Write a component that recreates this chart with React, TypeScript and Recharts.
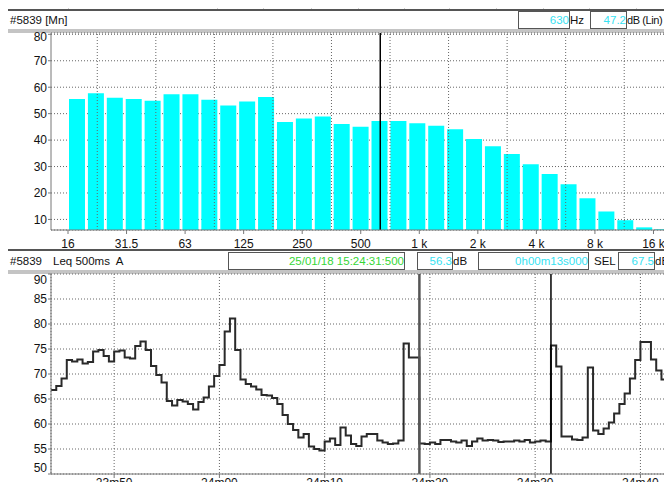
import React from "react";
import {
  BarChart,
  Bar,
  LineChart,
  Line,
  XAxis,
  YAxis,
  CartesianGrid,
  ReferenceLine,
} from "recharts";

const FONT = '"Liberation Sans", Arial, sans-serif';

// 1/3 octave spectrum, dB (Lin)
const bands = [
  "16", "20", "25", "31.5", "40", "50", "63", "80", "100", "125", "160",
  "200", "250", "315", "400", "500", "630", "800", "1k", "1.25k", "1.6k",
  "2k", "2.5k", "3.15k", "4k", "5k", "6.3k", "8k", "10k", "12.5k", "16k", "20k",
];
const spectrumDb = [
  55.5, 57.7, 56.0, 55.5, 54.9, 57.3, 57.3, 55.3, 53.1, 54.6, 56.3,
  46.8, 48.2, 48.9, 46.1, 45.0, 47.2, 47.2, 46.4, 45.4, 44.1,
  40.4, 37.7, 34.7, 30.9, 27.2, 23.3, 18.0, 13.0, 9.7, 7.0, 6.3,
];
const freqTickLabels = ["16", "31.5", "63", "125", "250", "500", "1 k", "2 k", "4 k", "8 k", "16 k"];
const dbTicks = [10, 20, 30, 40, 50, 60, 70, 80];
const cursorBand = "630";

// Leq 500ms A time history, seconds from 00m00 (1424 = 23m44)
const leqStart = 1424;
const leqStep = 0.5;
const leqValues = [
  66.8, 67.6, 69.1, 72.8, 72.5, 72.9, 72.1, 72.4, 74.5, 74.8,
  73.6, 72.5, 74.5, 74.7, 73.3, 73.1, 75.6, 76.5, 74.8, 71.6,
  69.8, 68.3, 64.6, 63.7, 64.8, 64.5, 64.0, 62.9, 64.4, 65.3,
  67.5, 69.6, 71.8, 78.5, 81.1, 74.8, 68.9, 68.0, 67.5, 66.9,
  65.8, 65.7, 65.2, 64.0, 61.8, 60.0, 58.8, 57.3, 58.0, 55.5,
  55.0, 54.7, 56.5, 57.1, 55.8, 59.3, 57.7, 56.0, 55.6, 57.5,
  58.0, 58.0, 56.7, 56.3, 56.0, 56.1, 56.7, 76.1, 73.3, 73.3,
  56.1, 56.0, 56.3, 56.0, 56.8, 56.8, 56.5, 56.3, 56.7, 55.6,
  56.5, 57.1, 56.7, 56.8, 56.7, 56.4, 56.5, 56.5, 56.7, 56.5,
  56.8, 56.3, 56.5, 56.7, 56.5, 75.7, 71.5, 57.5, 57.5, 56.9,
  56.8, 57.3, 71.3, 58.7, 58.0, 59.1, 60.3, 62.1, 64.0, 66.1,
  69.1, 72.8, 76.4, 76.4, 72.9, 70.7, 68.9,
];
const leqEnd = 1483;
const timeTicks = [1430, 1440, 1450, 1460, 1470, 1480];
const levelTicks = [50, 55, 60, 65, 70, 75, 80, 85, 90];
const cursorTimes = [1459, 1471.5];

// decoration of the panel above (cropped)
const stripLines = [68, 217, 263, 311, 358, 404, 449, 496, 543, 589, 636];

const spectrumData = bands.map((band, i) => ({ band, db: spectrumDb[i] }));
const tickIdx = freqTickLabels.map((_, i) => i * 3);
const gridIdx = bands.map((_, i) => i).filter((i) => i % 3 === 2).map((i) => i - 0.5);

const leqData = leqValues.map((v, i) => ({ t: leqStart + i * leqStep, v }));
leqData.push({ t: leqEnd, v: leqValues[leqValues.length - 1] });

const fmtTime = (t: number) => `${Math.floor(t / 60)}m${String(t % 60).padStart(2, "0")}`;

function YTick({ x, y, payload, lo, hi }: any) {
  const cy = Math.min(Math.max(y, lo), hi);
  return (
    <text x={x} y={cy} dy="0.36em" textAnchor="end" fontSize={12} fontFamily={FONT} fill="#111">
      {payload.value}
    </text>
  );
}

function Field({ left, width, top, color, text }: any) {
  return (
    <div
      style={{
        position: "absolute", left, top, width, height: 18, boxSizing: "border-box",
        border: "1px solid #555", background: "#fff", color, fontSize: 11.5,
        lineHeight: "16px", textAlign: "right", whiteSpace: "nowrap",
      }}
    >
      {text}
    </div>
  );
}

function Label({ left, top, text, size = 11.5, spacing = 0 }: any) {
  return (
    <div style={{ position: "absolute", left, top, fontSize: size, letterSpacing: spacing, lineHeight: "18px", color: "#111", whiteSpace: "pre" }}>
      {text}
    </div>
  );
}

const axisStroke = { stroke: "#777" };
const tickStyle = { fill: "#111", fontSize: 12, fontFamily: FONT };

export default function App() {
  return (
    <div style={{ position: "relative", width: 672, height: 490, margin: -8, overflow: "hidden", background: "#fff", fontFamily: FONT }}>
      {/* top strip */}
      {stripLines.map((x) => (
        <div key={x} style={{ position: "absolute", left: x, top: 0, width: 1, height: 9, background: "#d0d0d0" }} />
      ))}
      <div style={{ position: "absolute", left: 0, top: 0, width: 2, height: 10, background: "#8c9cc4" }} />
      <div style={{ position: "absolute", left: 0, top: 9, width: 672, height: 2, background: "#555" }} />

      {/* spectrum header */}
      <Label left={10} top={11} text="#5839 [Mn]" />
      <Field left={518} top={11} width={52} color="#36e2f2" text="630" />
      <Label left={570} top={11} text="Hz" />
      <Field left={590} top={11} width={37} color="#36e2f2" text="47.2" />
      <Label left={627} top={11} text="dB (Lin)" size={11} spacing={-0.4} />
      <div style={{ position: "absolute", left: 0, top: 29, width: 672, height: 4, background: "#c4c4c4" }} />

      <div style={{ position: "absolute", left: 0, top: 29 }}>
        <BarChart width={673} height={226} data={spectrumData} margin={{ top: 4, right: 0, bottom: 0, left: 1 }} barSize={16}>
          <CartesianGrid xAxisId="idx" vertical={false} stroke="#666" strokeDasharray="1 2" />
          <XAxis
            xAxisId="idx"
            type="number"
            domain={[-0.5, 31.5]}
            allowDataOverflow
            ticks={tickIdx}
            interval={0}
            tickFormatter={(v: number) => freqTickLabels[tickIdx.indexOf(v)]}
            padding={{ left: 17, right: 0 }}
            height={25}
            tickSize={4}
            tickMargin={5}
            axisLine={axisStroke}
            tickLine={axisStroke}
            tick={tickStyle}
          />
          <XAxis xAxisId="cat" dataKey="band" hide height={0} padding={{ left: 17, right: 0 }} />
          <YAxis
            domain={[6, 80.5]}
            allowDataOverflow
            ticks={dbTicks}
            interval={0}
            width={50}
            tickSize={3}
            tickMargin={1}
            axisLine={axisStroke}
            tickLine={axisStroke}
            tick={(p: any) => <YTick {...p} lo={8} hi={999} />}
          />
          {gridIdx.map((v) => (
            <ReferenceLine key={v} xAxisId="idx" x={v} stroke="#666" strokeDasharray="1 2" />
          ))}
          <Bar xAxisId="cat" dataKey="db" fill="#00ffff" isAnimationActive={false} />
          <ReferenceLine xAxisId="idx" x={bands.indexOf(cursorBand)} stroke="#000" strokeWidth={1.5} />
        </BarChart>
      </div>

      {/* time history header */}
      <div style={{ position: "absolute", left: 0, top: 249, width: 672, height: 2, background: "#555" }} />
      <div style={{ position: "absolute", left: 0, top: 251, width: 672, height: 19, background: "#fff" }} />
      <Label left={10} top={252} text="#5839" />
      <Label left={53} top={252} text="Leq 500ms  A" />
      <Field left={228} top={252} width={177} color="#36d636" text="25/01/18 15:24:31:500" />
      <Field left={417} top={252} width={36} color="#36e2f2" text="56.3" />
      <Label left={453} top={252} text="dB" />
      <Field left={478} top={252} width={111} color="#36e2f2" text="0h00m13s000" />
      <Label left={594} top={252} text="SEL" />
      <Field left={618} top={252} width={37} color="#36e2f2" text="67.5" />
      <Label left={655} top={252} text="dB" />
      <div style={{ position: "absolute", left: 0, top: 270, width: 672, height: 4, background: "#c4c4c4" }} />

      <div style={{ position: "absolute", left: 0, top: 270 }}>
        <LineChart width={672} height={220} data={leqData} margin={{ top: 4, right: 0, bottom: 0, left: 1 }}>
          <CartesianGrid stroke="#666" strokeDasharray="1 2" />
          <XAxis
            dataKey="t"
            type="number"
            domain={[leqStart, leqEnd]}
            allowDataOverflow
            ticks={timeTicks}
            interval={0}
            tickFormatter={fmtTime}
            height={16}
            tickSize={4}
            tickMargin={0}
            axisLine={axisStroke}
            tickLine={axisStroke}
            tick={tickStyle}
          />
          <YAxis
            domain={[50, 90]}
            allowDataOverflow
            ticks={levelTicks}
            interval={0}
            width={50}
            tickSize={3}
            tickMargin={1}
            axisLine={axisStroke}
            tickLine={axisStroke}
            tick={(p: any) => <YTick {...p} lo={10} hi={198} />}
          />
          <Line type="stepAfter" dataKey="v" stroke="#2a2a2a" strokeWidth={2} dot={false} isAnimationActive={false} />
          <ReferenceLine x={cursorTimes[0]} stroke="#555" strokeWidth={2.5} />
          <ReferenceLine x={cursorTimes[1]} stroke="#000" strokeWidth={1.5} />
        </LineChart>
      </div>
    </div>
  );
}
